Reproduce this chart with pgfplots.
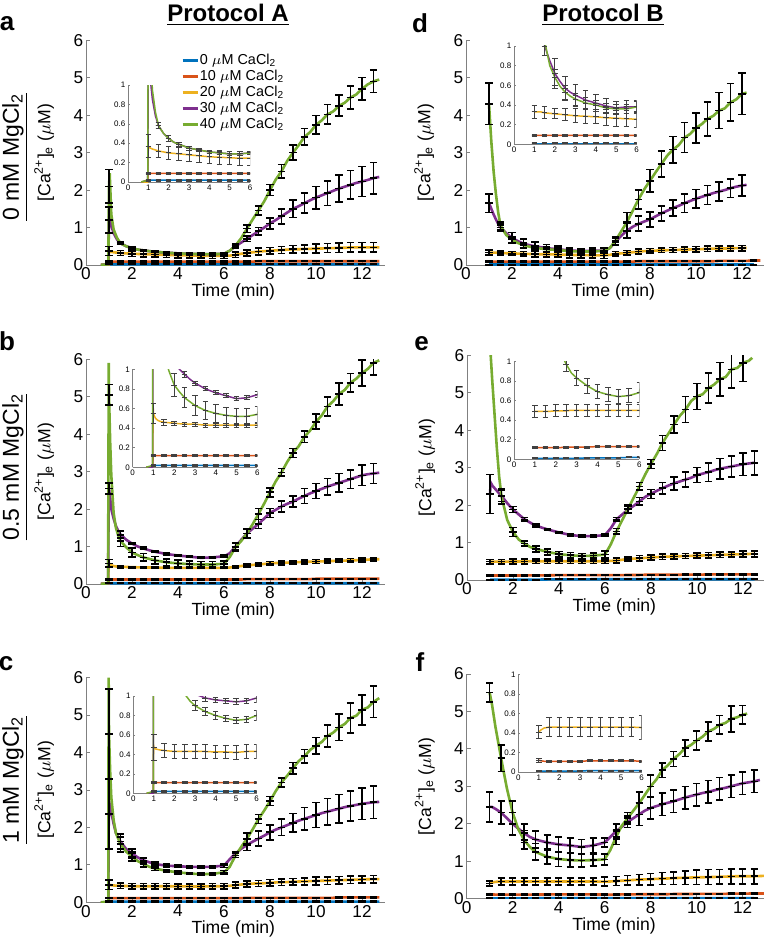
\documentclass[border=0pt]{standalone}
\usepackage{fontspec}
\setmainfont{Liberation Sans}
\usepackage{pgfplots}
\usepackage{pgfplotstable}
\pgfplotsset{compat=1.18}

\definecolor{cb}{rgb}{0,0.447,0.741}
\definecolor{co}{rgb}{0.85,0.325,0.098}
\definecolor{cy}{rgb}{0.929,0.694,0.125}
\definecolor{cp}{rgb}{0.494,0.184,0.556}
\definecolor{cg}{rgb}{0.466,0.674,0.188}

% columns: t f(bar row) b o w p g  eb eo ew ep eg
\pgfplotstableread{
t f b o w p g eb eo ew ep eg
0.65 0 0 0 0 0 0 0 0 0 0 0
0.97 0 0 0 0 0.02 0.02 0 0 0 0 0
1.0 1 0.02 0.09 0.37 1.2 2.1 0.01 0.01 0.12 0.35 0.45
1.03 0 0.02 0.09 0.36 1.45 2.45 0 0 0 0 0
1.1 0 0.02 0.09 0.35 1.05 1.35 0 0 0 0 0
1.2 0 0.02 0.09 0.34 0.85 0.95 0 0 0 0 0
1.35 0 0.02 0.09 0.33 0.68 0.72 0 0 0 0 0
1.5 1 0.02 0.09 0.32 0.58 0.58 0.01 0.01 0.07 0.03 0.03
1.75 0 0.02 0.09 0.31 0.5 0.5 0 0 0 0 0
2 1 0.02 0.09 0.30 0.45 0.45 0.01 0.01 0.07 0.03 0.03
2.25 0 0.02 0.09 0.295 0.41 0.41 0 0 0 0 0
2.5 1 0.02 0.09 0.29 0.39 0.39 0.01 0.01 0.07 0.02 0.02
2.75 0 0.02 0.09 0.285 0.37 0.37 0 0 0 0 0
3 1 0.02 0.09 0.28 0.35 0.35 0.01 0.01 0.07 0.02 0.02
3.5 1 0.02 0.09 0.27 0.33 0.33 0.01 0.01 0.07 0.02 0.02
4 1 0.02 0.09 0.26 0.31 0.31 0.01 0.01 0.07 0.02 0.02
4.5 1 0.02 0.09 0.255 0.30 0.30 0.01 0.01 0.07 0.02 0.02
5 1 0.02 0.09 0.25 0.29 0.29 0.01 0.01 0.07 0.02 0.02
5.5 1 0.02 0.09 0.245 0.29 0.29 0.01 0.01 0.07 0.02 0.02
6 1 0.02 0.09 0.245 0.30 0.30 0.01 0.01 0.07 0.02 0.02
6.25 0 0.02 0.09 0.25 0.38 0.38 0 0 0 0 0
6.5 1 0.02 0.09 0.27 0.5 0.52 0.01 0.01 0.07 0.05 0.05
6.75 0 0.02 0.09 0.3 0.6 0.72 0 0 0 0 0
7 1 0.02 0.09 0.32 0.7 0.97 0.01 0.01 0.08 0.07 0.1
7.25 0 0.02 0.09 0.34 0.8 1.22 0 0 0 0 0
7.5 1 0.02 0.1 0.36 0.9 1.46 0.01 0.01 0.09 0.1 0.12
7.75 0 0.02 0.1 0.37 1.0 1.7 0 0 0 0 0
8 1 0.02 0.1 0.38 1.11 2.0 0.01 0.01 0.09 0.15 0.15
8.25 0 0.02 0.1 0.39 1.2 2.28 0 0 0 0 0
8.5 1 0.02 0.1 0.4 1.3 2.5 0.01 0.01 0.09 0.2 0.18
8.75 0 0.02 0.1 0.41 1.4 2.78 0 0 0 0 0
9 1 0.02 0.1 0.42 1.5 3.0 0.01 0.01 0.1 0.23 0.2
9.25 0 0.02 0.1 0.42 1.57 3.2 0 0 0 0 0
9.5 1 0.02 0.1 0.43 1.65 3.42 0.01 0.01 0.11 0.27 0.22
9.75 0 0.02 0.1 0.43 1.73 3.55 0 0 0 0 0
10 1 0.02 0.1 0.44 1.8 3.74 0.01 0.01 0.12 0.3 0.25
10.25 0 0.02 0.1 0.44 1.86 3.86 0 0 0 0 0
10.5 1 0.02 0.1 0.45 1.92 4.02 0.01 0.01 0.12 0.33 0.26
10.75 0 0.02 0.1 0.45 1.98 4.1 0 0 0 0 0
11 1 0.02 0.1 0.46 2.04 4.25 0.01 0.01 0.13 0.36 0.28
11.25 0 0.02 0.1 0.46 2.09 4.33 0 0 0 0 0
11.5 1 0.02 0.1 0.47 2.14 4.47 0.01 0.01 0.13 0.38 0.3
11.75 0 0.02 0.1 0.47 2.19 4.55 0 0 0 0 0
12 1 0.02 0.1 0.47 2.23 4.7 0.01 0.01 0.13 0.4 0.3
12.25 0 0.02 0.1 0.47 2.27 4.82 0 0 0 0 0
12.5 1 0.02 0.1 0.47 2.32 4.9 0.01 0.01 0.13 0.42 0.3
12.75 0 0.02 0.1 0.47 2.35 4.95 0 0 0 0 0
}\TA

\pgfplotstableread{
t f b o w p g eb eo ew ep eg
1.0 1 0.01 0.09 0.33 1.65 4.3 0.005 0.01 0.07 0.25 0.55
1.1 0 0.01 0.09 0.33 1.5 3.3 0 0 0 0 0
1.2 0 0.01 0.09 0.33 1.35 2.5 0 0 0 0 0
1.3 0 0.01 0.09 0.33 1.22 1.9 0 0 0 0 0
1.4 0 0.01 0.09 0.325 1.1 1.4 0 0 0 0 0
1.5 1 0.01 0.09 0.32 1.0 1.05 0.005 0.01 0.06 0.1 0.1
1.75 0 0.01 0.09 0.315 0.85 0.8 0 0 0 0 0
2 1 0.01 0.09 0.31 0.72 0.68 0.005 0.01 0.05 0.15 0.08
2.25 0 0.01 0.09 0.305 0.64 0.59 0 0 0 0 0
2.5 1 0.01 0.09 0.3 0.57 0.53 0.005 0.01 0.06 0.12 0.07
2.75 0 0.01 0.09 0.295 0.53 0.49 0 0 0 0 0
3 1 0.01 0.09 0.29 0.5 0.46 0.005 0.01 0.07 0.11 0.06
3.5 1 0.01 0.09 0.285 0.45 0.42 0.005 0.01 0.07 0.1 0.06
4 1 0.01 0.09 0.28 0.42 0.4 0.005 0.01 0.07 0.09 0.05
4.5 1 0.01 0.09 0.27 0.39 0.37 0.005 0.01 0.08 0.08 0.05
5 1 0.01 0.09 0.265 0.37 0.36 0.005 0.01 0.08 0.07 0.05
5.5 1 0.01 0.09 0.26 0.38 0.36 0.005 0.01 0.08 0.07 0.05
6 1 0.01 0.09 0.255 0.38 0.38 0.005 0.01 0.08 0.07 0.06
6.25 0 0.01 0.09 0.27 0.45 0.45 0 0 0 0 0
6.5 1 0.01 0.09 0.3 0.62 0.65 0.005 0.01 0.06 0.1 0.1
6.75 0 0.01 0.09 0.31 0.78 0.9 0 0 0 0 0
7 1 0.01 0.09 0.33 0.92 1.15 0.005 0.01 0.06 0.2 0.25
7.25 0 0.01 0.09 0.34 1.02 1.45 0 0 0 0 0
7.5 1 0.01 0.1 0.36 1.1 1.75 0.005 0.01 0.06 0.2 0.25
7.75 0 0.01 0.1 0.37 1.16 2.02 0 0 0 0 0
8 1 0.01 0.1 0.38 1.22 2.25 0.005 0.01 0.06 0.2 0.3
8.25 0 0.01 0.1 0.385 1.3 2.48 0 0 0 0 0
8.5 1 0.01 0.1 0.39 1.38 2.7 0.005 0.01 0.06 0.2 0.35
8.75 0 0.01 0.1 0.395 1.45 2.92 0 0 0 0 0
9 1 0.01 0.1 0.4 1.52 3.08 0.005 0.01 0.07 0.22 0.35
9.25 0 0.01 0.1 0.405 1.58 3.2 0 0 0 0 0
9.5 1 0.01 0.1 0.41 1.65 3.4 0.005 0.01 0.07 0.25 0.4
9.75 0 0.01 0.1 0.415 1.71 3.5 0 0 0 0 0
10 1 0.01 0.1 0.42 1.77 3.66 0.005 0.01 0.07 0.25 0.4
10.25 0 0.01 0.1 0.425 1.82 3.76 0 0 0 0 0
10.5 1 0.01 0.1 0.43 1.87 3.9 0.005 0.01 0.07 0.25 0.45
10.75 0 0.01 0.1 0.435 1.92 3.98 0 0 0 0 0
11 1 0.01 0.11 0.44 1.96 4.12 0.005 0.01 0.07 0.25 0.48
11.25 0 0.01 0.11 0.44 2.0 4.18 0 0 0 0 0
11.5 1 0.01 0.11 0.445 2.05 4.34 0.005 0.01 0.07 0.25 0.5
11.75 0 0.01 0.11 0.45 2.09 4.42 0 0 0 0 0
12 1 0.01 0.11 0.45 2.12 4.57 0.005 0.01 0.07 0.28 0.55
12.2 0 0.01 0.11 0.455 2.14 4.6 0 0 0 0 0
12.5 1 0.01 0.12 nan nan nan 0.005 0.01 0 0 0
12.8 0 nan 0.12 nan nan nan 0 0 0 0 0
}\TD

\pgfplotstableread{
t f b o w p g eb eo ew ep eg
0.65 0 0 0 0 0 0 0 0 0 0 0
0.96 0 0 0 0 0 0.02 0 0 0 0 0
0.99 0 0.02 0.12 0.6 2.6 5.9 0 0 0 0 0
1.0 1 0.02 0.12 0.55 2.55 5.05 0.01 0.01 0.1 0.15 0.27
1.05 0 0.02 0.12 0.52 2.3 3.8 0 0 0 0 0
1.1 0 0.02 0.12 0.5 2.0 2.9 0 0 0 0 0
1.2 0 0.02 0.12 0.48 1.75 1.9 0 0 0 0 0
1.3 0 0.02 0.12 0.47 1.55 1.5 0 0 0 0 0
1.4 0 0.02 0.12 0.465 1.42 1.3 0 0 0 0 0
1.5 1 0.02 0.12 0.46 1.32 1.15 0.01 0.01 0.03 0.1 0.15
1.75 0 0.02 0.12 0.455 1.18 0.98 0 0 0 0 0
2 1 0.02 0.12 0.45 1.08 0.84 0.01 0.01 0.02 0.03 0.12
2.25 0 0.02 0.12 0.445 1.0 0.77 0 0 0 0 0
2.5 1 0.02 0.12 0.44 0.95 0.71 0.01 0.01 0.02 0.03 0.1
2.75 0 0.02 0.12 0.44 0.9 0.67 0 0 0 0 0
3 1 0.02 0.12 0.44 0.86 0.63 0.01 0.01 0.02 0.02 0.1
3.5 1 0.02 0.12 0.43 0.8 0.58 0.01 0.01 0.02 0.02 0.09
4 1 0.02 0.12 0.43 0.76 0.55 0.01 0.01 0.02 0.02 0.09
4.5 1 0.02 0.12 0.43 0.73 0.53 0.01 0.01 0.02 0.02 0.08
5 1 0.02 0.12 0.43 0.7 0.52 0.01 0.01 0.02 0.02 0.08
5.5 1 0.02 0.12 0.43 0.71 0.52 0.01 0.01 0.02 0.02 0.08
6 1 0.02 0.12 0.43 0.74 0.54 0.01 0.01 0.02 0.03 0.08
6.25 0 0.02 0.12 0.44 0.82 0.72 0 0 0 0 0
6.5 1 0.02 0.12 0.46 1.0 0.98 0.01 0.01 0.03 0.1 0.1
6.75 0 0.02 0.12 0.48 1.18 1.15 0 0 0 0 0
7 1 0.02 0.13 0.5 1.35 1.35 0.01 0.01 0.04 0.12 0.12
7.25 0 0.02 0.13 0.51 1.48 1.6 0 0 0 0 0
7.5 1 0.02 0.13 0.52 1.6 1.87 0.01 0.01 0.04 0.12 0.15
7.75 0 0.02 0.13 0.535 1.75 2.15 0 0 0 0 0
8 1 0.02 0.13 0.55 1.9 2.45 0.01 0.01 0.05 0.12 0.12
8.25 0 0.02 0.13 0.56 1.98 2.74 0 0 0 0 0
8.5 1 0.02 0.13 0.565 2.07 2.98 0.01 0.01 0.05 0.15 0.1
8.75 0 0.02 0.13 0.57 2.14 3.26 0 0 0 0 0
9 1 0.02 0.13 0.58 2.2 3.5 0.01 0.01 0.05 0.15 0.12
9.25 0 0.02 0.13 0.585 2.28 3.68 0 0 0 0 0
9.5 1 0.02 0.13 0.59 2.35 3.93 0.01 0.01 0.05 0.2 0.15
9.75 0 0.02 0.13 0.595 2.42 4.1 0 0 0 0 0
10 1 0.02 0.14 0.6 2.48 4.33 0.01 0.01 0.05 0.2 0.2
10.25 0 0.02 0.14 0.605 2.54 4.5 0 0 0 0 0
10.5 1 0.02 0.14 0.61 2.6 4.74 0.01 0.01 0.05 0.22 0.25
10.75 0 0.02 0.14 0.615 2.65 4.88 0 0 0 0 0
11 1 0.02 0.14 0.62 2.7 5.07 0.01 0.01 0.05 0.25 0.3
11.25 0 0.02 0.14 0.625 2.75 5.18 0 0 0 0 0
11.5 1 0.02 0.14 0.63 2.8 5.37 0.01 0.01 0.05 0.25 0.25
11.75 0 0.02 0.14 0.635 2.85 5.48 0 0 0 0 0
12 1 0.02 0.14 0.64 2.9 5.63 0.01 0.01 0.05 0.27 0.35
12.25 0 0.02 0.14 0.65 2.93 5.74 0 0 0 0 0
12.5 1 0.02 0.14 0.66 2.95 5.9 0.01 0.01 0.05 0.27 0.32
12.75 0 0.02 0.14 0.66 2.97 5.97 0 0 0 0 0
}\TB

\pgfplotstableread{
t f b o w p g eb eo ew ep eg
1.0 1 0.01 0.12 0.49 2.3 6.3 0.005 0.01 0.06 0.52 0
1.03 0 0.01 0.12 0.49 2.6 6.0 0 0 0 0 0
1.1 0 0.01 0.12 0.49 2.52 5.3 0 0 0 0 0
1.2 0 0.01 0.12 0.49 2.45 4.4 0 0 0 0 0
1.3 0 0.01 0.12 0.49 2.38 3.5 0 0 0 0 0
1.4 0 0.01 0.12 0.49 2.31 2.75 0 0 0 0 0
1.5 1 0.01 0.12 0.49 2.25 2.23 0.005 0.01 0.06 0.15 0.2
1.75 0 0.01 0.12 0.49 2.05 1.6 0 0 0 0 0
2 1 0.01 0.12 0.495 1.88 1.28 0.005 0.01 0.06 0.08 0.12
2.25 0 0.01 0.12 0.495 1.75 1.08 0 0 0 0 0
2.5 1 0.01 0.125 0.495 1.62 0.97 0.005 0.01 0.06 0.05 0.07
2.75 0 0.01 0.125 0.5 1.53 0.88 0 0 0 0 0
3 1 0.01 0.125 0.5 1.45 0.83 0.005 0.01 0.06 0.04 0.08
3.5 1 0.015 0.125 0.5 1.35 0.75 0.005 0.01 0.06 0.03 0.08
4 1 0.015 0.13 0.5 1.27 0.69 0.005 0.01 0.06 0.03 0.07
4.5 1 0.015 0.13 0.5 1.2 0.66 0.005 0.01 0.06 0.03 0.07
5 1 0.015 0.13 0.5 1.17 0.64 0.005 0.01 0.06 0.03 0.07
5.5 1 0.02 0.13 0.5 1.17 0.65 0.005 0.01 0.06 0.03 0.07
6 1 0.02 0.13 0.5 1.2 0.68 0.005 0.01 0.06 0.03 0.1
6.25 0 0.02 0.13 0.51 1.38 0.95 0 0 0 0 0
6.5 1 0.02 0.13 0.52 1.62 1.3 0.005 0.01 0.06 0.05 0.08
6.75 0 0.02 0.13 0.54 1.75 1.6 0 0 0 0 0
7 1 0.02 0.135 0.56 1.88 1.9 0.005 0.01 0.06 0.1 0.1
7.25 0 0.02 0.135 0.57 1.98 2.2 0 0 0 0 0
7.5 1 0.02 0.135 0.58 2.1 2.5 0.005 0.01 0.07 0.1 0.1
7.75 0 0.02 0.14 0.59 2.22 2.82 0 0 0 0 0
8 1 0.02 0.14 0.6 2.3 3.1 0.005 0.01 0.07 0.12 0.12
8.25 0 0.02 0.14 0.61 2.38 3.36 0 0 0 0 0
8.5 1 0.02 0.14 0.62 2.45 3.66 0.005 0.01 0.07 0.15 0.2
8.75 0 0.02 0.14 0.625 2.52 3.9 0 0 0 0 0
9 1 0.02 0.14 0.63 2.58 4.15 0.005 0.01 0.07 0.17 0.22
9.25 0 0.02 0.14 0.635 2.63 4.38 0 0 0 0 0
9.5 1 0.02 0.145 0.64 2.68 4.55 0.005 0.01 0.07 0.2 0.35
9.75 0 0.02 0.145 0.645 2.73 4.78 0 0 0 0 0
10 1 0.02 0.145 0.65 2.8 4.9 0.005 0.01 0.07 0.2 0.35
10.25 0 0.02 0.145 0.655 2.84 4.96 0 0 0 0 0
10.5 1 0.02 0.15 0.66 2.88 5.12 0.005 0.01 0.07 0.25 0.4
10.75 0 0.02 0.15 0.665 2.93 5.22 0 0 0 0 0
11 1 0.02 0.15 0.67 2.97 5.36 0.005 0.01 0.07 0.27 0.45
11.25 0 0.02 0.15 0.675 3.0 5.42 0 0 0 0 0
11.5 1 0.02 0.15 0.68 3.03 5.62 0.005 0.01 0.07 0.28 0.5
11.75 0 0.02 0.15 0.685 3.06 5.66 0 0 0 0 0
12 1 0.02 0.15 0.69 3.09 5.8 0.005 0.01 0.08 0.3 0.5
12.25 0 0.02 0.15 0.695 3.11 5.85 0 0 0 0 0
12.4 0 nan nan nan nan 5.93 0 0 0 0 0
12.5 1 0.02 0.15 0.7 3.13 nan 0.005 0.01 0.08 0.32 0
}\TE

\pgfplotstableread{
t f b o w p g eb eo ew ep eg
0.65 0 0 0 0 0 0 0 0 0 0 0
0.97 0 0 0 0 0 0.02 0 0 0 0 0
0.985 0 0.02 0.11 0.5 2.0 6.0 0 0 0 0 0
1.0 1 0.02 0.11 0.47 2.35 4.5 0.01 0.01 0.13 0.93 1.2
1.05 0 0.02 0.11 0.46 2.55 3.5 0 0 0 0 0
1.1 0 0.02 0.11 0.455 2.4 2.8 0 0 0 0 0
1.2 0 0.02 0.11 0.45 2.1 2.2 0 0 0 0 0
1.3 0 0.02 0.11 0.445 1.85 1.85 0 0 0 0 0
1.5 1 0.02 0.11 0.44 1.62 1.55 0.01 0.01 0.07 0.2 0.2
1.75 0 0.02 0.11 0.435 1.42 1.35 0 0 0 0 0
2 1 0.02 0.11 0.43 1.3 1.22 0.01 0.01 0.07 0.12 0.12
2.25 0 0.02 0.11 0.43 1.2 1.1 0 0 0 0 0
2.5 1 0.02 0.11 0.43 1.12 1.02 0.01 0.01 0.07 0.07 0.07
2.75 0 0.02 0.11 0.43 1.07 0.95 0 0 0 0 0
3 1 0.02 0.11 0.43 1.02 0.9 0.01 0.01 0.07 0.05 0.05
3.5 1 0.02 0.11 0.43 0.98 0.84 0.01 0.01 0.07 0.04 0.04
4 1 0.02 0.11 0.425 0.96 0.8 0.01 0.01 0.07 0.03 0.04
4.5 1 0.02 0.11 0.425 0.95 0.77 0.01 0.01 0.07 0.03 0.03
5 1 0.02 0.11 0.42 0.94 0.75 0.01 0.01 0.07 0.03 0.03
5.5 1 0.02 0.11 0.43 0.95 0.76 0.01 0.01 0.07 0.03 0.03
6 1 0.02 0.11 0.43 0.98 0.8 0.01 0.01 0.07 0.05 0.05
6.25 0 0.02 0.11 0.44 1.15 0.95 0 0 0 0 0
6.5 1 0.02 0.11 0.46 1.3 1.25 0.01 0.01 0.08 0.05 0.05
6.75 0 0.02 0.11 0.475 1.43 1.48 0 0 0 0 0
7 1 0.02 0.12 0.49 1.53 1.7 0.01 0.01 0.08 0.15 0.15
7.25 0 0.02 0.12 0.5 1.62 1.95 0 0 0 0 0
7.5 1 0.02 0.12 0.505 1.7 2.22 0.01 0.01 0.08 0.2 0.12
7.75 0 0.02 0.12 0.51 1.78 2.45 0 0 0 0 0
8 1 0.02 0.12 0.52 1.87 2.7 0.01 0.01 0.09 0.2 0.12
8.25 0 0.02 0.12 0.53 1.94 2.97 0 0 0 0 0
8.5 1 0.02 0.12 0.535 2.0 3.2 0.01 0.01 0.09 0.22 0.12
8.75 0 0.02 0.12 0.54 2.06 3.38 0 0 0 0 0
9 1 0.02 0.12 0.55 2.12 3.58 0.01 0.01 0.09 0.25 0.15
9.25 0 0.02 0.12 0.555 2.18 3.77 0 0 0 0 0
9.5 1 0.02 0.12 0.56 2.23 3.9 0.01 0.01 0.09 0.3 0.18
9.75 0 0.02 0.12 0.565 2.28 4.07 0 0 0 0 0
10 1 0.02 0.12 0.57 2.33 4.18 0.01 0.01 0.1 0.33 0.22
10.25 0 0.02 0.12 0.575 2.38 4.28 0 0 0 0 0
10.5 1 0.02 0.12 0.58 2.42 4.44 0.01 0.01 0.1 0.35 0.3
10.75 0 0.02 0.12 0.585 2.46 4.53 0 0 0 0 0
11 1 0.02 0.13 0.59 2.5 4.67 0.01 0.01 0.1 0.38 0.35
11.25 0 0.02 0.13 0.595 2.54 4.76 0 0 0 0 0
11.5 1 0.02 0.13 0.6 2.57 4.92 0.01 0.01 0.1 0.4 0.4
11.75 0 0.02 0.13 0.605 2.6 4.98 0 0 0 0 0
12 1 0.02 0.13 0.61 2.63 5.14 0.01 0.01 0.1 0.42 0.4
12.25 0 0.02 0.13 0.615 2.65 5.2 0 0 0 0 0
12.5 1 0.02 0.13 0.62 2.67 5.35 0.01 0.01 0.1 0.43 0.42
12.75 0 0.02 0.13 0.62 2.68 5.45 0 0 0 0 0
}\TC

\pgfplotstableread{
t f b o w p g eb eo ew ep eg
1.0 1 0.01 0.12 0.41 2.45 5.5 0.005 0.02 0.07 0.4 0.25
1.1 0 0.01 0.115 0.43 2.45 5.2 0 0 0 0 0
1.25 0 0.01 0.11 0.45 2.4 4.6 0 0 0 0 0
1.5 1 0.01 0.11 0.46 2.3 3.75 0.005 0.01 0.1 0.3 0.35
1.75 0 0.01 0.11 0.46 2.15 2.95 0 0 0 0 0
2 1 0.01 0.11 0.46 2.0 2.3 0.005 0.01 0.1 0.3 0.3
2.25 0 0.01 0.11 0.46 1.87 1.85 0 0 0 0 0
2.5 1 0.01 0.11 0.46 1.75 1.57 0.005 0.01 0.1 0.25 0.25
2.75 0 0.01 0.11 0.46 1.65 1.38 0 0 0 0 0
3 1 0.01 0.11 0.46 1.58 1.25 0.005 0.01 0.1 0.22 0.22
3.5 1 0.015 0.115 0.46 1.5 1.12 0.005 0.01 0.1 0.2 0.2
4 1 0.015 0.115 0.46 1.45 1.06 0.005 0.01 0.1 0.2 0.2
4.5 1 0.015 0.115 0.46 1.42 1.03 0.005 0.01 0.1 0.2 0.18
5 1 0.015 0.115 0.46 1.38 1.02 0.005 0.01 0.1 0.2 0.18
5.5 1 0.015 0.115 0.46 1.42 1.03 0.005 0.01 0.1 0.2 0.15
6 1 0.015 0.11 0.455 1.5 1.05 0.005 0.01 0.12 0.12 0.15
6.25 0 0.015 0.11 0.46 1.65 1.3 0 0 0 0 0
6.5 1 0.015 0.11 0.47 1.8 1.65 0.005 0.01 0.12 0.2 0.2
6.75 0 0.015 0.115 0.48 1.92 1.95 0 0 0 0 0
7 1 0.015 0.115 0.49 2.05 2.15 0.005 0.01 0.13 0.15 0.15
7.25 0 0.015 0.115 0.5 2.15 2.35 0 0 0 0 0
7.5 1 0.015 0.12 0.51 2.25 2.55 0.005 0.01 0.14 0.3 0.3
7.75 0 0.015 0.12 0.515 2.35 2.77 0 0 0 0 0
8 1 0.015 0.12 0.52 2.42 3.0 0.005 0.01 0.15 0.3 0.3
8.25 0 0.015 0.12 0.53 2.47 3.18 0 0 0 0 0
8.5 1 0.015 0.12 0.535 2.52 3.43 0.005 0.01 0.16 0.3 0.2
8.75 0 0.015 0.12 0.54 2.56 3.56 0 0 0 0 0
9 1 0.015 0.125 0.55 2.6 3.73 0.005 0.01 0.17 0.3 0.2
9.25 0 0.015 0.125 0.555 2.65 3.86 0 0 0 0 0
9.5 1 0.015 0.125 0.56 2.7 4.02 0.005 0.01 0.18 0.3 0.22
9.75 0 0.015 0.125 0.565 2.74 4.1 0 0 0 0 0
10 1 0.015 0.13 0.57 2.78 4.22 0.005 0.01 0.19 0.3 0.25
10.25 0 0.015 0.13 0.573 2.82 4.32 0 0 0 0 0
10.5 1 0.015 0.13 0.576 2.85 4.46 0.005 0.01 0.2 0.3 0.25
10.75 0 0.015 0.13 0.58 2.89 4.53 0 0 0 0 0
11 1 0.015 0.13 0.585 2.93 4.64 0.005 0.01 0.2 0.3 0.25
11.25 0 0.015 0.13 0.59 2.96 4.69 0 0 0 0 0
11.5 1 0.015 0.135 0.595 3.0 4.8 0.005 0.01 0.2 0.3 0.35
11.75 0 0.015 0.135 0.6 3.04 4.84 0 0 0 0 0
12 1 0.015 0.135 0.6 3.08 4.91 0.005 0.01 0.2 0.3 0.25
12.2 0 nan nan nan nan 4.94 0 0 0 0 0
12.5 1 0.015 0.14 0.6 3.13 nan 0.005 0.01 0.2 0.3 0
12.75 0 nan 0.14 0.605 3.17 nan 0 0 0 0 0
12.95 0 nan 0.14 0.61 nan nan 0 0 0 0 0
}\TF

\pgfplotsset{
  mainax/.style={scale only axis, width=149.5pt, height=112.4pt,
    xmin=0, xmax=13, ymin=0, ymax=6,
    xtick={0,2,4,6,8,10,12}, ytick={0,1,2,3,4,5,6},
    axis x line*=bottom, axis y line*=left,
    axis line style={black!50, line width=0.5pt},
    tick style={black!50, line width=0.4pt}, tick align=inside, major tick length=2pt,
    tick label style={font=\fontsize{8.6}{10}\selectfont, inner sep=1.2pt},
    /pgf/number format/assume math mode=true,
    xlabel={Time (min)},
    ylabel={[Ca\textsuperscript{2+}]\textsubscript{e} ($\mu$M)},
    label style={font=\fontsize{8.8}{10}\selectfont, inner sep=1pt},
    xlabel style={at={(axis description cs:0.493,-0.12)}, anchor=center},
    ylabel style={at={(axis description cs:-0.14,0.5)}, anchor=center},
    clip marker paths=true,
    anchor=south west},
  inax/.style={scale only axis, xmin=0, xmax=6, ymin=0, ymax=1,
    xtick={0,1,2,3,4,5,6}, ytick={0,0.2,0.4,0.6,0.8,1},
    axis x line*=bottom, axis y line*=left,
    axis line style={black!50, line width=0.35pt},
    tick style={black!50, line width=0.3pt}, tick align=inside, major tick length=1pt,
    tick label style={font=\fontsize{4}{5}\selectfont, inner sep=1.2pt},
    /pgf/number format/assume math mode=true,
    clip marker paths=true,
    anchor=south west},
  cm/.style={line width=1.3pt},
  ci/.style={line width=0.75pt},
  ebm/.style={draw=none, mark=none, forget plot,
    restrict expr to domain={\thisrow{f}}{0.5:1.5},
    error bars/.cd, y dir=both, y explicit,
    draw error bar/.code 2 args={\draw[black, line width=0.8pt] ##1 -- ##2 ##1 ++(-1.8pt,0pt) -- ++(3.6pt,0pt) ##2 ++(-1.8pt,0pt) -- ++(3.6pt,0pt);}},
  ebi/.style={draw=none, mark=none, forget plot,
    restrict expr to domain={\thisrow{f}*(\thisrow{t}<6.1)}{0.5:1.5},
    restrict y to domain=-1:1.0,
    error bars/.cd, y dir=both, y explicit,
    draw error bar/.code 2 args={\draw[black!75, line width=0.45pt] ##1 -- ##2 ##1 ++(-1.4pt,0pt) -- ++(2.8pt,0pt) ##2 ++(-1.4pt,0pt) -- ++(2.8pt,0pt);}},
}

\newcommand\curves[2]{%
  \addplot[cb,#2] table[x=t,y=b]{#1};
  \addplot[co,#2] table[x=t,y=o]{#1};
  \addplot[cy,#2] table[x=t,y=w]{#1};
  \addplot[cp,#2] table[x=t,y=p]{#1};
  \addplot[cg,#2] table[x=t,y=g]{#1};}
\newcommand\bars[2]{%
  \addplot[#2] table[x=t,y=b,y error=eb]{#1};
  \addplot[#2] table[x=t,y=o,y error=eo]{#1};
  \addplot[#2] table[x=t,y=w,y error=ew]{#1};
  \addplot[#2] table[x=t,y=p,y error=ep]{#1};
  \addplot[#2] table[x=t,y=g,y error=eg]{#1};}

\begin{document}
\begin{tikzpicture}
\useasboundingbox (0,0) rectangle (382pt,-471pt);

% ---------- panel a ----------
\begin{axis}[mainax, at={(43pt,-132.5pt)},
  legend style={at={(axis description cs:0.318,0.947)}, anchor=north west, draw=none, fill=none,
    font=\fontsize{7.2}{8}\selectfont, row sep=0pt, inner sep=0pt,
    nodes={inner sep=0.6pt, text height=5.2pt, text depth=1.6pt}},
  legend cell align=left,
  legend image code/.code={\draw[#1, line width=1.1pt] (0pt,0pt) -- (7.5pt,0pt);}]
\curves{\TA}{cm}
\bars{\TA}{ebm}
\legend{0 $\mu$M CaCl\textsubscript{2}, 10 $\mu$M CaCl\textsubscript{2}, 20 $\mu$M CaCl\textsubscript{2}, 30 $\mu$M CaCl\textsubscript{2}, 40 $\mu$M CaCl\textsubscript{2}}
\end{axis}
\begin{axis}[inax, at={(64pt,-91pt)}, width=61pt, height=48.5pt]
\curves{\TA}{ci}
\bars{\TA}{ebi}
\end{axis}

% ---------- panel d ----------
\begin{axis}[mainax, at={(233pt,-132.5pt)}]
\curves{\TD}{cm}
\bars{\TD}{ebm}
\end{axis}
\begin{axis}[inax, at={(257pt,-72.15pt)}, width=61.35pt, height=49.15pt]
\curves{\TD}{ci}
\bars{\TD}{ebi}
\end{axis}

% ---------- panel b ----------
\begin{axis}[mainax, at={(43pt,-292pt)}]
\curves{\TB}{cm}
\bars{\TB}{ebm}
\end{axis}
\begin{axis}[inax, at={(66.35pt,-233.65pt)}, width=62.3pt, height=49pt]
\curves{\TB}{ci}
\bars{\TB}{ebi}
\end{axis}

% ---------- panel e ----------
\begin{axis}[mainax, at={(233.5pt,-290pt)}]
\curves{\TE}{cm}
\bars{\TE}{ebm}
\end{axis}
\begin{axis}[inax, at={(257pt,-229.65pt)}, width=62.65pt, height=49pt]
\curves{\TE}{ci}
\bars{\TE}{ebi}
\end{axis}

% ---------- panel c ----------
\begin{axis}[mainax, at={(43pt,-451.15pt)}]
\curves{\TC}{cm}
\bars{\TC}{ebm}
\end{axis}
\begin{axis}[inax, at={(66.65pt,-396.65pt)}, width=61.7pt, height=48.65pt]
\curves{\TC}{ci}
\bars{\TC}{ebi}
\end{axis}

% ---------- panel f ----------
\begin{axis}[mainax, at={(233.3pt,-449.35pt)}]
\curves{\TF}{cm}
\bars{\TF}{ebm}
\end{axis}
\begin{axis}[inax, at={(259.15pt,-386pt)}, width=61.7pt, height=48.85pt]
\curves{\TF}{ci}
\bars{\TF}{ebi}
\end{axis}

% ---------- titles and labels ----------
\node[font=\bfseries\fontsize{12}{14}\selectfont] at (114pt,-7.5pt) {\underline{Protocol A}};
\node[font=\bfseries\fontsize{12}{14}\selectfont] at (301.5pt,-7.5pt) {\underline{Protocol B}};
\node[font=\bfseries\fontsize{13}{15}\selectfont] at (3.5pt,-12pt) {a};
\node[font=\bfseries\fontsize{13}{15}\selectfont] at (210pt,-11.5pt) {d};
\node[font=\bfseries\fontsize{13}{15}\selectfont] at (3.5pt,-170.5pt) {b};
\node[font=\bfseries\fontsize{13}{15}\selectfont] at (210.75pt,-172pt) {e};
\node[font=\bfseries\fontsize{13}{15}\selectfont] at (3pt,-332pt) {c};
\node[font=\bfseries\fontsize{13}{15}\selectfont] at (210pt,-331.25pt) {f};
\node[rotate=90, font=\fontsize{11.5}{13}\selectfont] at (7.5pt,-78.5pt) {\underline{0 mM MgCl\textsubscript{2}}};
\node[rotate=90, font=\fontsize{11.5}{13}\selectfont] at (7.5pt,-233.5pt) {\underline{0.5 mM MgCl\textsubscript{2}}};
\node[rotate=90, font=\fontsize{11.5}{13}\selectfont] at (7.5pt,-390pt) {\underline{1 mM MgCl\textsubscript{2}}};
\end{tikzpicture}
\end{document}
